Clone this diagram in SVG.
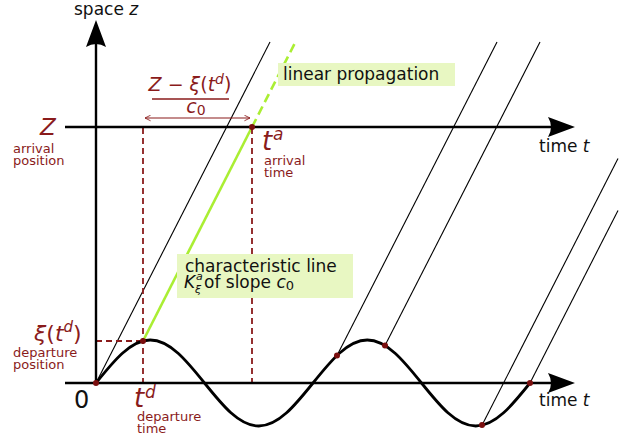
<svg xmlns="http://www.w3.org/2000/svg" width="625" height="440" viewBox="0 0 625 440">
<defs>
<style>
.ax{stroke:#000;stroke-width:2.4;fill:none}
.ch{stroke:#000;stroke-width:1.1;fill:none}
.dash{stroke:#8a1b1b;stroke-width:1.8;stroke-dasharray:6,4;fill:none}
.grn{stroke:#aaee33;stroke-width:2.6;fill:none}
.dot{fill:#7a0e0e}
.lbl{font-family:"DejaVu Sans",sans-serif;font-size:17px;fill:#111}
.red{font-family:"DejaVu Sans",sans-serif;fill:#8a1b1b}
.sm{font-size:13px}
.it{font-style:italic}
.box{fill:#e8f7c2}
.ah{fill:#000}
</style>
<marker id="oa" viewBox="0 0 10 10" refX="9" refY="5" markerWidth="7" markerHeight="7" orient="auto-start-reverse" markerUnits="userSpaceOnUse">
<path d="M1,1 L9,5 L1,9" fill="none" stroke="#8a1b1b" stroke-width="1.2"/>
</marker>
</defs>
<rect width="625" height="440" fill="#fff"/>

<g id="connectors">
<line class="ch" x1="96" y1="383" x2="270" y2="42"/>
<line class="ch" x1="337" y1="355.5" x2="497" y2="42"/>
<line class="ch" x1="385" y1="345.6" x2="540" y2="42"/>
<line class="ch" x1="482" y1="425.3" x2="618" y2="158.6"/>
<line class="ch" x1="530" y1="383" x2="618" y2="210.5"/>
<line class="grn" x1="143" y1="341" x2="252" y2="127"/>
<line class="grn" x1="252" y1="127" x2="296" y2="41" stroke-dasharray="9,5"/>
<line class="dash" x1="143" y1="128" x2="143" y2="383"/>
<line class="dash" x1="252" y1="128" x2="252" y2="383"/>
<line class="dash" x1="96" y1="341" x2="143" y2="341"/>
<line x1="145" y1="118" x2="250" y2="118" stroke="#8a1b1b" stroke-width="1.1" marker-start="url(#oa)" marker-end="url(#oa)"/>
<line x1="152" y1="99" x2="229" y2="99" stroke="#8a1b1b" stroke-width="1.6"/>
</g>

<g id="axes">
<line class="ax" x1="96" y1="383" x2="96" y2="40"/>
<path class="ah" d="M96,20 L106,47 Q96,41 86,47 Z"/>
<line class="ax" x1="65" y1="383" x2="555" y2="383"/>
<path class="ah" d="M575,383 L548,373 Q554,383 548,393 Z"/>
<line class="ax" x1="65" y1="127" x2="555" y2="127"/>
<path class="ah" d="M575,127 L548,117 Q554,127 548,137 Z"/>
</g>

<g id="curve">
<path d="M96,383 C113.69,360.97 130.62,340 150.25,340 C169.88,340 186.81,360.97 204.5,383 C222.19,405.03 239.12,426 258.75,426 C278.38,426 295.31,405.03 313,383 C330.69,360.97 347.62,340 367.25,340 C386.88,340 403.81,360.97 421.5,383 C439.19,405.03 456.12,426 475.75,426 C495.38,426 512.31,405.03 530,383" fill="none" stroke="#000" stroke-width="2.8"/>
</g>

<g id="dots">
<circle class="dot" cx="96" cy="383" r="3"/>
<circle class="dot" cx="143" cy="341" r="3"/>
<circle class="dot" cx="252" cy="127" r="3"/>
<circle class="dot" cx="337" cy="355.5" r="3"/>
<circle class="dot" cx="385" cy="345.6" r="3"/>
<circle class="dot" cx="482" cy="425" r="3"/>
<circle class="dot" cx="530" cy="383" r="3"/>
</g>

<g id="axis-labels">
<text class="lbl" x="74" y="15">space <tspan class="it">z</tspan></text>
<text class="lbl" x="539" y="152">time <tspan class="it">t</tspan></text>
<text class="lbl" x="539" y="406">time <tspan class="it">t</tspan></text>
<text class="lbl" x="74" y="408" style="font-size:24px">0</text>
</g>

<g id="label-Z">
<text class="red it" x="40" y="135" style="font-size:23px">Z</text>
<text class="red sm" x="13" y="153">arrival</text>
<text class="red sm" x="13" y="165">position</text>
</g>

<g id="label-xi">
<text class="red" x="34" y="341" style="font-size:22px"><tspan class="it">ξ</tspan>(<tspan class="it">t</tspan><tspan class="it" style="font-size:15px" dy="-9">d</tspan><tspan dy="9">)</tspan></text>
<text class="red sm" x="13" y="357">departure</text>
<text class="red sm" x="13" y="369">position</text>
</g>

<g id="label-td">
<text class="red it" x="134" y="407" style="font-size:26px">t</text>
<text class="red it" x="145" y="398" style="font-size:17px">d</text>
<text class="red sm" x="137" y="421">departure</text>
<text class="red sm" x="137" y="433">time</text>
</g>

<g id="label-ta">
<text class="red it" x="262" y="150" style="font-size:26px">t</text>
<text class="red it" x="273" y="140" style="font-size:17px">a</text>
<text class="red sm" x="264" y="165">arrival</text>
<text class="red sm" x="264" y="177">time</text>
</g>

<g id="label-fraction">
<text class="red" x="190" y="91" style="font-size:19px" text-anchor="middle"><tspan class="it">Z</tspan> − <tspan class="it">ξ</tspan>(<tspan class="it">t</tspan><tspan class="it" style="font-size:14px" dy="-7">d</tspan><tspan dy="7">)</tspan></text>
<text class="red" x="196" y="113" style="font-size:19px" text-anchor="middle"><tspan class="it">c</tspan><tspan style="font-size:14px" dy="2">0</tspan></text>
</g>

<g id="label-linear">
<rect class="box" x="278" y="63" width="177" height="23"/>
<text class="lbl" x="283" y="80">linear propagation</text>
</g>

<g id="label-characteristic">
<rect class="box" x="177" y="254" width="176" height="44"/>
<text class="lbl" x="185" y="272">characteristic line</text>
<text class="lbl it" x="184" y="288">K</text>
<text class="lbl it" x="196" y="280" style="font-size:11px">a</text>
<text class="lbl it" x="195" y="293" style="font-size:11px">ξ</text>
<text class="lbl" x="204" y="288">of slope <tspan class="it">c</tspan><tspan style="font-size:13px" dy="2">0</tspan></text>
</g>
</svg>
